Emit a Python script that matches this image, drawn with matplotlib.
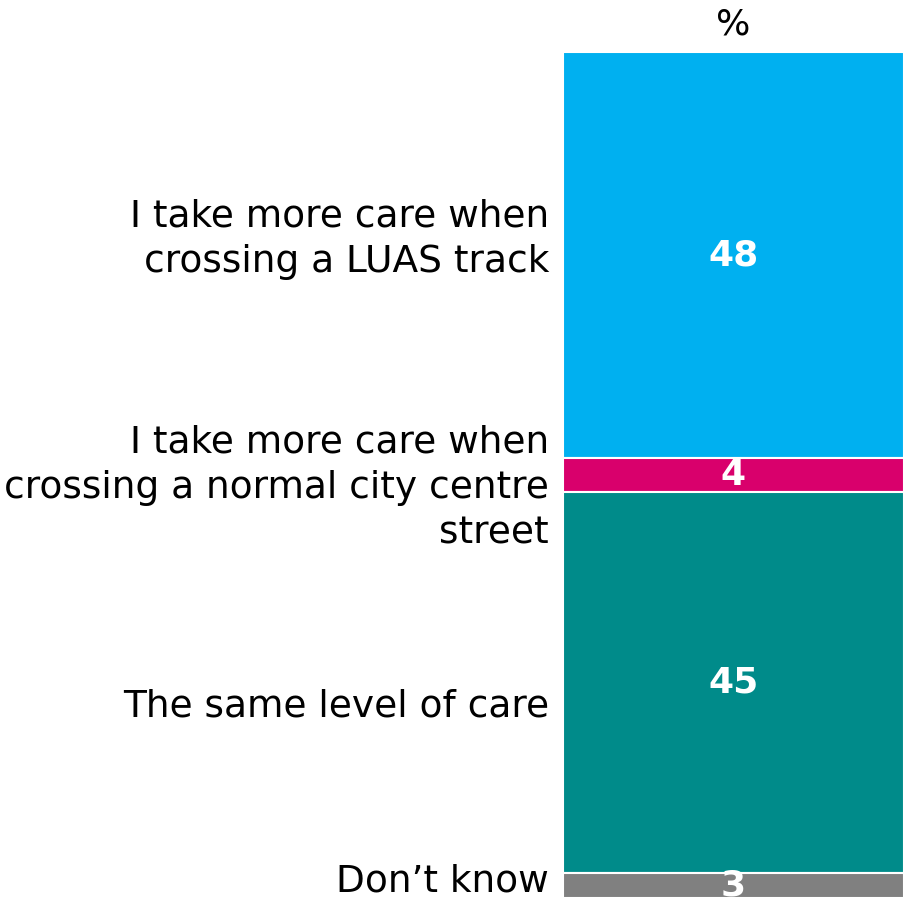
import matplotlib.pyplot as plt
import matplotlib.transforms as mtransforms

# Data
categories = ["I take more care when\ncrossing a LUAS track",
              "I take more care when\ncrossing a normal city centre\nstreet",
              "The same level of care",
              "Don\u2019t know"]
values = [48, 4, 45, 3]
colors = ["#00B0F0", "#D9006C", "#008B8A", "#808080"]

# small vertical nudges (pixels, positive = down) for the category labels
label_nudge = [-16, 13, 24, -4]

plt.rcParams['font.family'] = ['DejaVu Sans']

fig = plt.figure(figsize=(9.04, 9.0), dpi=100)
ax = fig.add_axes([562.5 / 904, 2 / 900, 1 - 562.5 / 904, 846 / 900])

# single stacked bar, drawn top-down
bottom = 0
centers = []
for val, col in zip(values, colors):
    ax.bar(0, val, bottom=bottom, width=1.0, color=col, edgecolor='white', linewidth=1.5)
    ax.text(0, bottom + val / 2, str(val), ha='center', va='center', color='white',
            fontsize=26, fontweight='bold', clip_on=True)
    centers.append(bottom + val / 2)
    bottom += val

ax.set_xlim(-0.5, 0.5)
ax.set_ylim(100, 0)
ax.axis('off')

# category labels to the left of the bar
trans = mtransforms.blended_transform_factory(fig.transFigure, ax.transData)
for lab, c, dy in zip(categories, centers, label_nudge):
    t = trans + mtransforms.ScaledTranslation(0, -dy / 100, fig.dpi_scale_trans)
    fig.text(549 / 904, c, lab, transform=t, ha='right', va='center',
             fontsize=27, linespacing=1.35, color='black')

# header above the bar
ax.text(0, -1.2, "%", ha='center', va='bottom', fontsize=26, color='black', clip_on=False)

plt.savefig('out.png', dpi=100)
